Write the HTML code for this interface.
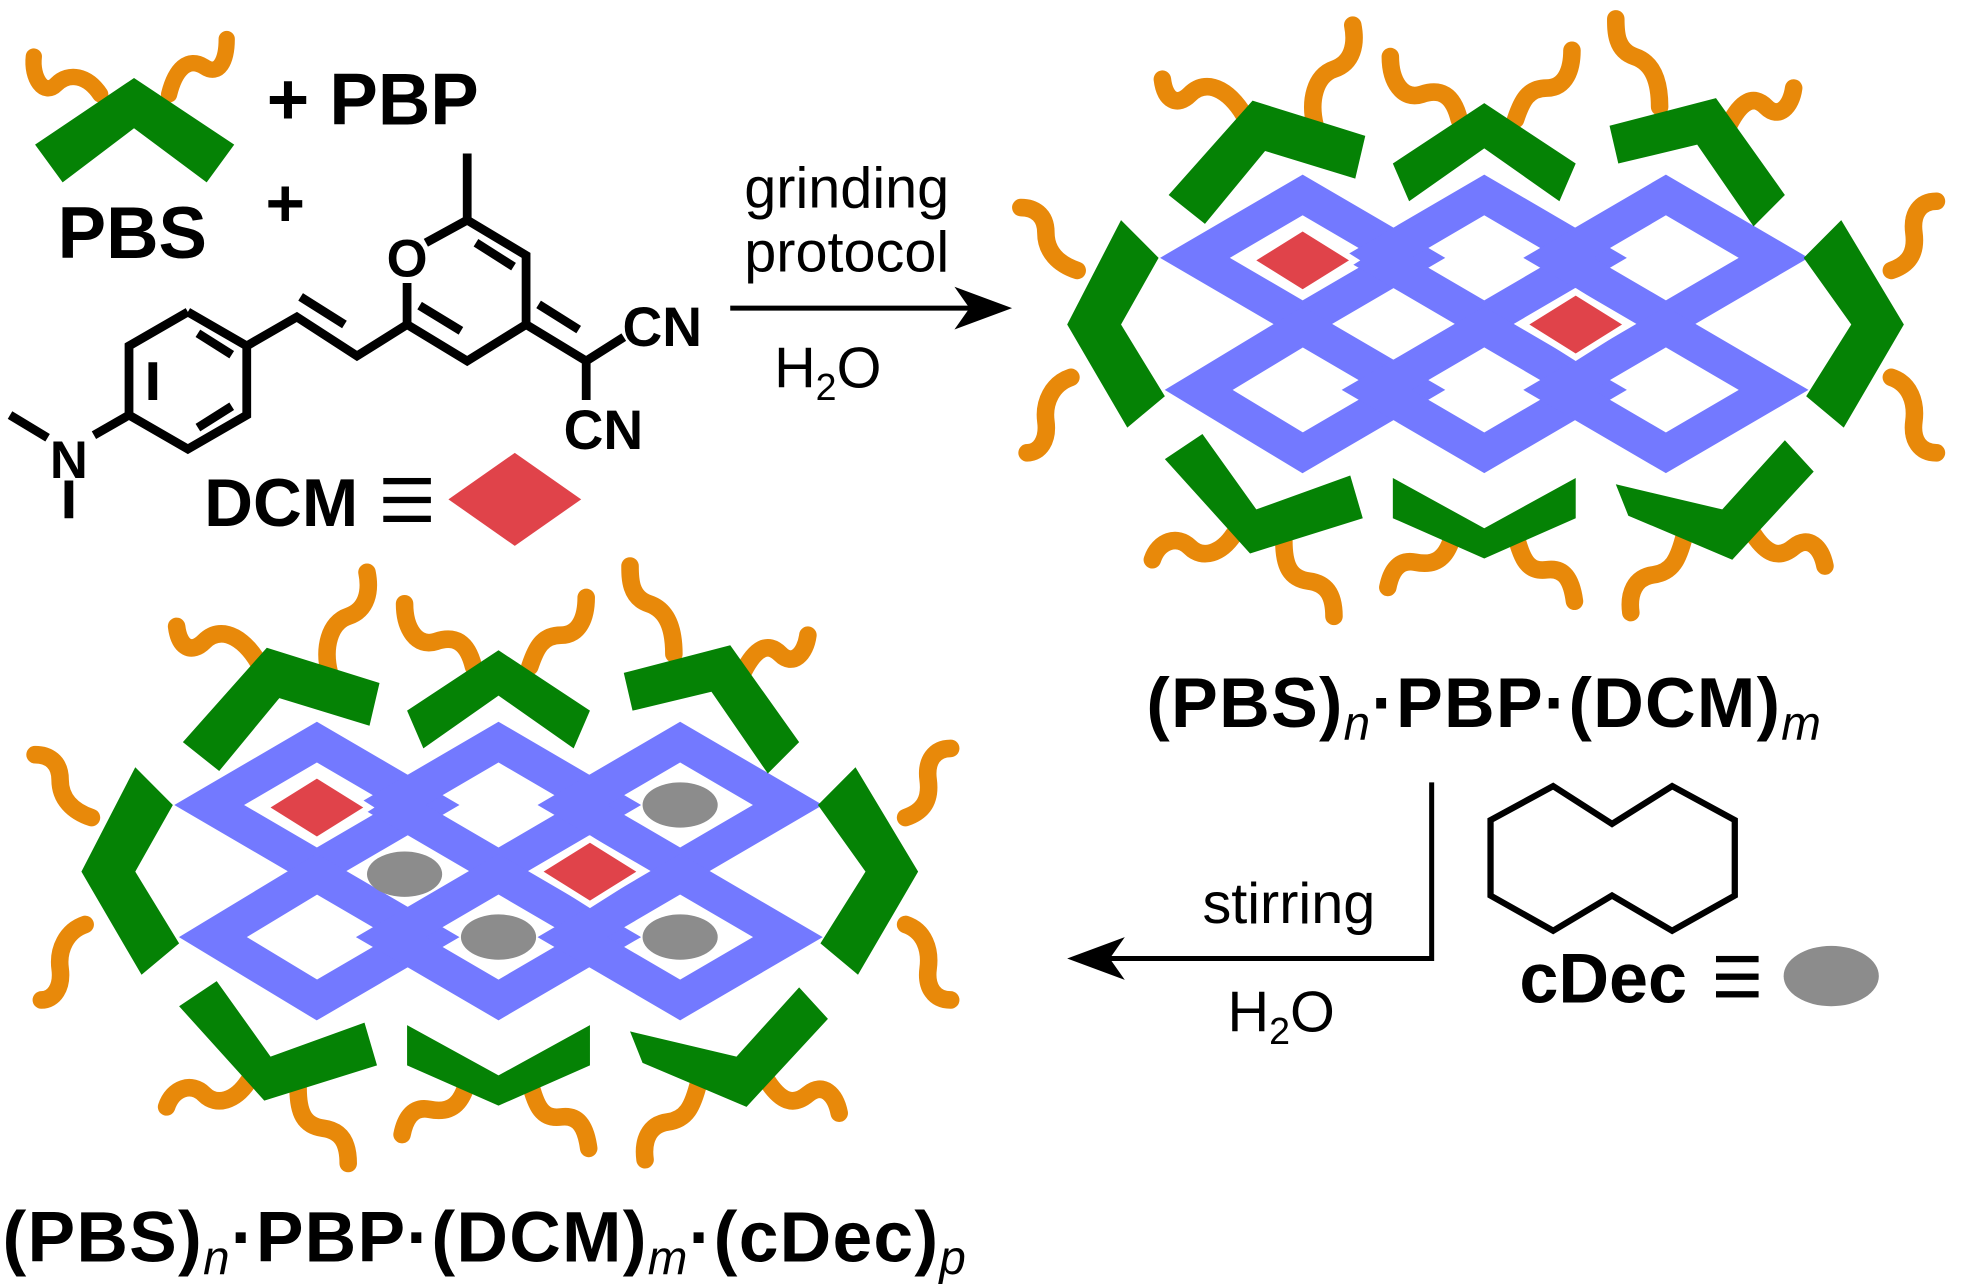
<!DOCTYPE html>
<html><head><meta charset="utf-8"><style>
html,body{margin:0;padding:0;background:#fff}
svg{display:block}
text{font-family:"Liberation Sans",Arial,sans-serif;fill:#000}
.b{font-weight:bold}
</style></head><body>
<svg width="1964" height="1288" viewBox="0 0 1568 1024" preserveAspectRatio="none" xmlns="http://www.w3.org/2000/svg">
<defs>
<g id="lat" fill="none" stroke="#7379ff" stroke-width="28" stroke-linejoin="miter">
<polygon points="954,205 1040,155 1126,205 1040,255"/>
<polygon points="1099,205 1185,155 1271,205 1185,255"/>
<polygon points="1244,205 1330,155 1416,205 1330,255"/>
<polygon points="957,310 1040,260 1126,310 1040,360"/>
<polygon points="1099,310 1185,260 1271,310 1185,360"/>
<polygon points="1244,310 1330,260 1416,310 1330,360"/>
</g>
<g id="grn" fill="#058205">
<polygon points="933,155 1000,80 1090,108 1082,142 1010,120 962,178"/>
<polygon points="1112,130 1185,82 1258,130 1245,160 1185,118 1125,160"/>
<polygon points="1285,100 1370,78 1425,155 1400,180 1355,115 1292,130"/>
<polygon points="895,175 925,205 895,258 930,315 900,340 852,258"/>
<polygon points="1470,175 1520,258 1472,340 1442,315 1478,258 1440,205"/>
<polygon points="930,365 960,345 1003,405 1078,378 1088,412 998,440"/>
<polygon points="1112,380 1185,420 1258,380 1258,412 1185,444 1112,412"/>
<polygon points="1290,385 1300,410 1383,445 1448,375 1425,350 1375,405"/>
</g>
<g id="tails" fill="none" stroke="#e8890a" stroke-width="14" stroke-linecap="round">
<path d="M995,95 c-10,-20 -30,-35 -45,-20 c-10,10 -20,5 -22,-12 M1050,100 c-5,-20 0,-40 15,-45 c15,-5 18,-20 15,-35"/>
<path d="M1165,95 c-5,-20 -15,-25 -30,-20 c-15,5 -25,-10 -25,-30 M1210,95 c5,-15 10,-25 25,-25 c15,0 20,-15 20,-30"/>
<path d="M1325,85 c0,-20 -5,-35 -20,-40 c-15,-5 -15,-20 -15,-30 M1380,100 c10,-20 20,-25 30,-15 c10,10 20,0 22,-15"/>
<path d="M860,215 c-15,-5 -25,-15 -25,-30 c0,-15 -10,-20 -20,-20 M855,300 c-15,5 -22,20 -20,35 c2,15 -5,25 -15,25"/>
<path d="M1510,215 c15,-5 20,-15 18,-30 c-2,-15 5,-25 18,-25 M1510,300 c15,5 20,20 18,35 c-2,15 5,25 18,25"/>
<path d="M985,425 c-10,15 -25,20 -35,10 c-10,-10 -25,-5 -30,10 M1025,430 c0,20 5,30 20,32 c15,2 20,12 20,28"/>
<path d="M1160,425 c-5,20 -15,25 -30,22 c-15,-3 -20,10 -22,20 M1210,425 c5,20 10,30 25,28 c15,-2 20,10 22,25"/>
<path d="M1345,425 c-5,20 -10,30 -25,32 c-15,2 -20,15 -18,30 M1400,425 c10,15 20,20 32,10 c12,-10 22,0 25,15"/>
</g>
</defs>

<!-- PBS -->
<g fill="none" stroke="#e8890a" stroke-width="13" stroke-linecap="round">
<path d="M80,75 c-10,-15 -25,-18 -35,-8 c-10,10 -20,-5 -18,-22"/>
<path d="M135,75 c5,-20 15,-30 28,-22 c12,8 18,-5 18,-22"/>
</g>
<polygon points="28,115 50,145 107,102 165,145 187,115 107,62" fill="#058205"/>
<text x="213" y="99" class="b" font-size="58">+ PBP</text>
<text x="46" y="205" class="b" font-size="58">PBS</text>
<text x="212" y="180" font-size="54" class="b">+</text>

<!-- DCM molecule -->
<g fill="none" stroke="#000" stroke-width="7" stroke-linejoin="miter">
<polyline points="150,248 197,275 197,330 150,357 103,330 103,275 150,248"/>
<line x1="122" y1="288" x2="122" y2="318"/>
<line x1="158" y1="265" x2="185" y2="282"/>
<line x1="158" y1="340" x2="185" y2="323"/>
<polyline points="197,275 237,252 285,283 325,258 373,287 420,258 420,203 373,175 340,193"/>
<line x1="325" y1="258" x2="325" y2="225"/>
<line x1="373" y1="175" x2="373" y2="122"/>
<line x1="240" y1="236" x2="275" y2="258"/>
<line x1="335" y1="243" x2="368" y2="263"/>
<line x1="380" y1="193" x2="410" y2="212"/>
<polyline points="420,258 468,287 498,268"/>
<line x1="468" y1="287" x2="468" y2="318"/>
<line x1="430" y1="242" x2="462" y2="262"/>
<line x1="103" y1="330" x2="75" y2="346"/>
<line x1="8" y1="330" x2="38" y2="348"/>
<line x1="55" y1="382" x2="55" y2="412"/>
</g>
<text x="325" y="220" font-size="42" class="b" text-anchor="middle">O</text>
<text x="55" y="380" font-size="42" class="b" text-anchor="middle">N</text>
<text x="497" y="275" font-size="44" class="b">CN</text>
<text x="450" y="357" font-size="44" class="b">CN</text>
<text x="163" y="418" font-size="54" class="b">DCM</text>
<g fill="#000"><rect x="306" y="380" width="38" height="5"/><rect x="306" y="395" width="38" height="5"/><rect x="306" y="410" width="38" height="5"/></g>
<polygon points="358,397 411,360 464,397 411,434" fill="#e0434a"/>

<!-- arrow 1 -->
<line x1="583" y1="245" x2="775" y2="245" stroke="#000" stroke-width="4"/>
<polygon points="808,245 762,228 774,245 762,262" fill="#000"/>
<text x="676" y="165" font-size="46" text-anchor="middle">grinding</text>
<text x="676" y="216" font-size="46" text-anchor="middle">protocol</text>
<text x="618" y="308" font-size="46">H<tspan font-size="30" dy="10">2</tspan><tspan dy="-10">O</tspan></text>

<!-- right assembly -->
<use href="#tails"/>
<use href="#lat"/>
<use href="#grn"/>
<polygon points="994,207 1040,178 1086,207 1040,236" fill="#fff"/>
<polygon points="1003,207 1040,184 1077,207 1040,230" fill="#e0434a"/>
<polygon points="1212,258 1258,229 1304,258 1258,287" fill="#fff"/>
<polygon points="1221,258 1258,235 1295,258 1258,281" fill="#e0434a"/>
<text x="1185" y="578" font-size="56" class="b" text-anchor="middle" letter-spacing="1">(PBS)<tspan font-size="38" dy="10" font-style="italic" font-weight="normal">n</tspan><tspan dy="-10">·PBP·(DCM)</tspan><tspan font-size="38" dy="10" font-style="italic" font-weight="normal">m</tspan></text>

<!-- arrow 2 -->
<polyline points="1143,622 1143,762 880,762" fill="none" stroke="#000" stroke-width="4"/>
<polygon points="852,762 898,745 886,762 898,779" fill="#000"/>
<text x="1029" y="734" font-size="46" text-anchor="middle">stirring</text>
<text x="980" y="820" font-size="46">H<tspan font-size="30" dy="10">2</tspan><tspan dy="-10">O</tspan></text>
<polygon points="1190,652 1240,625 1287,655 1335,625 1385,652 1385,712 1335,740 1287,712 1240,740 1190,712" fill="none" stroke="#000" stroke-width="5"/>
<text x="1213" y="797" font-size="56" class="b">cDec</text>
<g fill="#000"><rect x="1370" y="760" width="34" height="5"/><rect x="1370" y="774" width="34" height="5"/><rect x="1370" y="788" width="34" height="5"/></g>
<ellipse cx="1462" cy="776" rx="38" ry="24" fill="#8c8c8c"/>

<!-- left assembly -->
<g transform="translate(-787,435)">
<use href="#tails"/>
<use href="#lat"/>
<use href="#grn"/>
<polygon points="994,207 1040,178 1086,207 1040,236" fill="#fff"/>
<polygon points="1003,207 1040,184 1077,207 1040,230" fill="#e0434a"/>
<polygon points="1212,258 1258,229 1304,258 1258,287" fill="#fff"/>
<polygon points="1221,258 1258,235 1295,258 1258,281" fill="#e0434a"/>
<ellipse cx="1330" cy="205" rx="30" ry="18" fill="#8c8c8c"/>
<ellipse cx="1110" cy="260" rx="30" ry="18" fill="#8c8c8c"/>
<ellipse cx="1185" cy="310" rx="30" ry="18" fill="#8c8c8c"/>
<ellipse cx="1330" cy="310" rx="30" ry="18" fill="#8c8c8c"/>
</g>
<text x="2" y="1003" font-size="57" class="b" letter-spacing="1">(PBS)<tspan font-size="38" dy="10" font-style="italic" font-weight="normal">n</tspan><tspan dy="-10">·PBP·(DCM)</tspan><tspan font-size="38" dy="10" font-style="italic" font-weight="normal">m</tspan><tspan dy="-10">·(cDec)</tspan><tspan font-size="38" dy="10" font-style="italic" font-weight="normal">p</tspan></text>
</svg>
</body></html>
